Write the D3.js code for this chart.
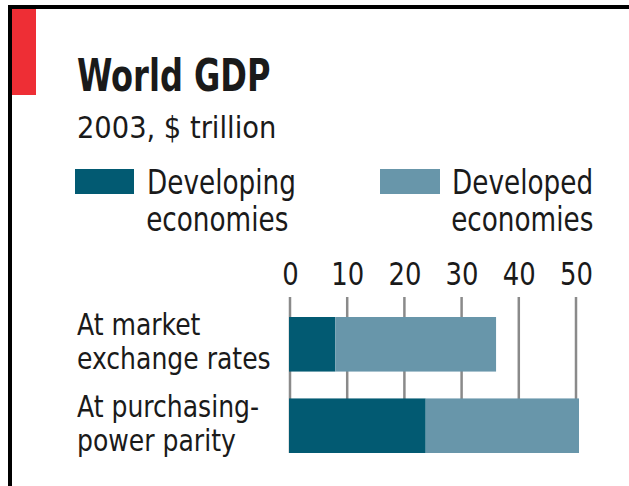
<!DOCTYPE html>
<html>
<head>
<meta charset="utf-8">
<script src="https://cdn.jsdelivr.net/npm/d3@7"></script>
<style>
  body { margin: 0; background: #fff; }
  svg text { font-family: "DejaVu Sans Condensed", "DejaVu Sans", sans-serif; fill: #1a1a1a; }
</style>
</head>
<body>
<div id="chart"></div>
<script>
// data, 2003, $ trillion
var categories = [["At market", "exchange rates"], ["At purchasing-", "power parity"]];
var developing = [8.1, 23.9];
var developed = [28.1, 26.8];
var tickValues = [0, 10, 20, 30, 40, 50];
var seriesNames = [["Developing", "economies"], ["Developed", "economies"]];

var colors = ["#025a72", "#6896aa"];

var width = 629, height = 486;

// the original face is narrower than DejaVu condensed, so squash text horizontally
function squeeze(sel, k, x0) {
  sel.attr("transform", "translate(" + x0 + ",0) scale(" + k + ",1) translate(" + (-x0) + ",0)");
}

var svg = d3.select("#chart")
  .append("svg")
  .attr("width", width)
  .attr("height", height);

// frame + red tag
svg.append("rect").attr("x", 8).attr("y", 5).attr("width", width - 8).attr("height", 4).attr("fill", "#000");
svg.append("rect").attr("x", 8).attr("y", 5).attr("width", 4).attr("height", height - 5).attr("fill", "#000");
svg.append("rect").attr("x", 12).attr("y", 9).attr("width", 24).attr("height", 86).attr("fill", "#ee2e35");

svg.append("text")
  .attr("x", 77).attr("y", 91)
  .style("font-size", "44px").style("font-weight", "bold")
  .text("World GDP")
  .call(squeeze, 0.81, 77);

svg.append("text")
  .attr("x", 77).attr("y", 138)
  .style("font-size", "31px")
  .text("2003, $ trillion")
  .call(squeeze, 0.98, 77);

// legend
var legendX = [75, 380];
var leg = svg.selectAll(".leg")
  .data(seriesNames)
  .enter().append("g")
  .attr("class", "leg")
  .attr("transform", function(d, i) { return "translate(" + legendX[i] + ",169)"; });

leg.append("rect")
  .attr("width", function(d, i) { return i === 0 ? 59 : 60; })
  .attr("height", 25)
  .attr("fill", function(d, i) { return colors[i]; });

var legText = leg.append("text")
  .attr("x", 72)
  .attr("y", 25)
  .style("font-size", "34px")
  .call(squeeze, 0.86, 72);

legText.append("tspan")
  .attr("x", 72)
  .text(function(d) { return d[0]; });
legText.append("tspan")
  .attr("x", 71)
  .attr("dy", 37)
  .text(function(d) { return d[1]; });

// scales
var x = d3.scaleLinear()
  .domain([0, 50])
  .range([290, 576]);

var y = d3.scaleBand()
  .domain(d3.range(categories.length))
  .range([317, 453])
  .paddingInner(0.33)
  .paddingOuter(0);

// gridlines
svg.append("g")
  .selectAll("line")
  .data(tickValues)
  .enter().append("line")
  .attr("x1", function(d) { return x(d); })
  .attr("x2", function(d) { return x(d); })
  .attr("y1", 297)
  .attr("y2", 453)
  .attr("stroke", "#8a8a8a")
  .attr("stroke-width", 2.5);

// top axis labels
var axis = svg.append("g")
  .attr("transform", "translate(0,285)")
  .call(d3.axisTop(x).tickValues(tickValues).tickSize(0).tickPadding(0));
axis.select(".domain").remove();
axis.selectAll("text")
  .attr("y", 0)
  .attr("dy", 0)
  .style("font-family", "\"DejaVu Sans Condensed\", \"DejaVu Sans\", sans-serif")
  .style("font-size", "32px")
  .style("fill", "#1a1a1a")
  .attr("transform", "scale(0.9,1)");

// stacked bars
var stacked = categories.map(function(c, i) {
  return [[0, developing[i]], [developing[i], developing[i] + developed[i]]];
});

var rows = svg.selectAll(".row")
  .data(stacked)
  .enter().append("g")
  .attr("class", "row");

rows.selectAll("rect")
  .data(function(d, i) { return d.map(function(s) { return { s: s, i: i }; }); })
  .enter().append("rect")
  .attr("x", function(d) { return x(d.s[0]) - 1; })
  .attr("y", function(d) { return y(d.i); })
  .attr("width", function(d) { return x(d.s[1]) - x(d.s[0]); })
  .attr("height", y.bandwidth())
  .attr("fill", function(d, j) { return colors[j]; });

// category labels
var lab = svg.selectAll(".cat")
  .data(categories)
  .enter().append("text")
  .attr("class", "cat")
  .attr("x", 77)
  .attr("y", function(d, i) { return y(i) + y.bandwidth() / 2 - 9; })
  .style("font-size", "31px")
  .call(squeeze, 0.9, 77);

lab.selectAll("tspan")
  .data(function(d) { return d; })
  .enter().append("tspan")
  .attr("x", 77)
  .attr("dy", function(d, j) { return j === 0 ? 0 : 34; })
  .text(function(d) { return d; });
</script>
</body>
</html>
